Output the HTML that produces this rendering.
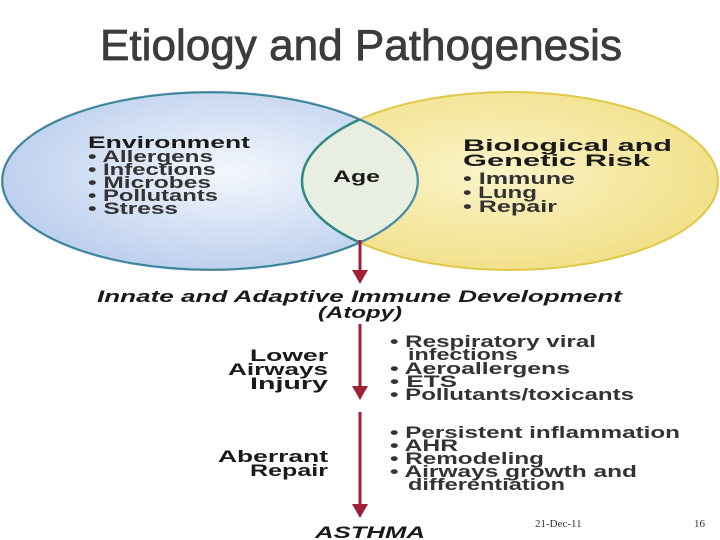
<!DOCTYPE html>
<html><head><meta charset="utf-8"><style>
html,body{margin:0;padding:0;background:#fff;}
svg{display:block;}
</style></head><body>
<svg width="720" height="540" viewBox="0 0 720 540" xmlns="http://www.w3.org/2000/svg">
<defs>
<radialGradient id="gb" cx="0.55" cy="0.45" r="0.6">
<stop offset="0" stop-color="#f4f7fc"/><stop offset="1" stop-color="#b9cdee"/></radialGradient>
<radialGradient id="gy" cx="0.45" cy="0.45" r="0.6">
<stop offset="0" stop-color="#fbf4c8"/><stop offset="1" stop-color="#f1df86"/></radialGradient>
<clipPath id="cl"><ellipse cx="210" cy="181" rx="208" ry="89"/></clipPath>
</defs>
<text x="100" y="60" font-family="Liberation Sans, sans-serif" font-size="44" fill="#3c3c3c" stroke="#3c3c3c" stroke-width="0.8" textLength="522" lengthAdjust="spacingAndGlyphs">Etiology and Pathogenesis</text>
<ellipse cx="510" cy="181" rx="208" ry="89" fill="url(#gy)" stroke="#e0c84a" stroke-width="2"/>
<ellipse cx="210" cy="181" rx="208" ry="89" fill="url(#gb)" stroke="#5b86c4" stroke-width="2"/>
<ellipse cx="510" cy="181" rx="208" ry="89" fill="#e8eee0" stroke="#2f8a84" stroke-width="2.5" clip-path="url(#cl)"/>
<ellipse cx="210" cy="181" rx="208" ry="89" fill="none" stroke="#2f8a84" stroke-width="2.5" clip-path="url(#cl)"/>
<g font-family="Liberation Sans, sans-serif" font-weight="bold" fill="#1a1a1a" font-size="17">
<text x="88" y="148" textLength="162" lengthAdjust="spacingAndGlyphs">Environment</text>
<g fill="#333">
<text x="88" y="162" textLength="125" lengthAdjust="spacingAndGlyphs">• Allergens</text>
<text x="88" y="175" textLength="128" lengthAdjust="spacingAndGlyphs">• Infections</text>
<text x="88" y="188" textLength="123" lengthAdjust="spacingAndGlyphs">• Microbes</text>
<text x="88" y="201" textLength="130" lengthAdjust="spacingAndGlyphs">• Pollutants</text>
<text x="88" y="214" textLength="90" lengthAdjust="spacingAndGlyphs">• Stress</text>
</g>
<text x="333" y="182" textLength="47" lengthAdjust="spacingAndGlyphs">Age</text>
<text x="463" y="151" textLength="209" lengthAdjust="spacingAndGlyphs">Biological and</text>
<text x="463" y="166" textLength="187" lengthAdjust="spacingAndGlyphs">Genetic Risk</text>
<g fill="#333">
<text x="463" y="184" textLength="112" lengthAdjust="spacingAndGlyphs">• Immune</text>
<text x="463" y="198" textLength="74" lengthAdjust="spacingAndGlyphs">• Lung</text>
<text x="463" y="212" textLength="94" lengthAdjust="spacingAndGlyphs">• Repair</text>
</g>
<text x="97" y="302" font-style="italic" textLength="525" lengthAdjust="spacingAndGlyphs">Innate and Adaptive Immune Development</text>
<text x="318" y="318" font-style="italic" textLength="84" lengthAdjust="spacingAndGlyphs">(Atopy)</text>
<text x="250" y="361" textLength="78" lengthAdjust="spacingAndGlyphs">Lower</text>
<text x="228" y="375" textLength="100" lengthAdjust="spacingAndGlyphs">Airways</text>
<text x="250" y="389" textLength="78" lengthAdjust="spacingAndGlyphs">Injury</text>
<text x="218" y="462" textLength="110" lengthAdjust="spacingAndGlyphs">Aberrant</text>
<text x="250" y="476" textLength="78" lengthAdjust="spacingAndGlyphs">Repair</text>
<g fill="#333">
<text x="390" y="347" textLength="206" lengthAdjust="spacingAndGlyphs">• Respiratory viral</text>
<text x="408" y="360" textLength="110" lengthAdjust="spacingAndGlyphs">infections</text>
<text x="390" y="374" textLength="180" lengthAdjust="spacingAndGlyphs">• Aeroallergens</text>
<text x="390" y="387" textLength="67" lengthAdjust="spacingAndGlyphs">• ETS</text>
<text x="390" y="400" textLength="244" lengthAdjust="spacingAndGlyphs">• Pollutants/toxicants</text>
<text x="390" y="438" textLength="290" lengthAdjust="spacingAndGlyphs">• Persistent inflammation</text>
<text x="390" y="451" textLength="68" lengthAdjust="spacingAndGlyphs">• AHR</text>
<text x="390" y="464" textLength="154" lengthAdjust="spacingAndGlyphs">• Remodeling</text>
<text x="390" y="477" textLength="247" lengthAdjust="spacingAndGlyphs">• Airways growth and</text>
<text x="408" y="490" textLength="157" lengthAdjust="spacingAndGlyphs">differentiation</text>
</g>
<text x="315" y="538" font-style="italic" textLength="110" lengthAdjust="spacingAndGlyphs">ASTHMA</text>
</g>
<g stroke="#a0203a" stroke-width="3" fill="#a0203a">
<line x1="360" y1="240" x2="360" y2="272"/><polygon points="352,270 368,270 360,284" stroke="none"/>
<line x1="360" y1="324" x2="360" y2="388"/><polygon points="352,386 368,386 360,400" stroke="none"/>
<line x1="360" y1="412" x2="360" y2="506"/><polygon points="352,504 368,504 360,518" stroke="none"/>
</g>
<text x="535" y="527" font-family="Liberation Serif, serif" font-size="11" fill="#333">21-Dec-11</text>
<text x="694" y="527" font-family="Liberation Serif, serif" font-size="11" fill="#333">16</text>
</svg>
</body></html>
